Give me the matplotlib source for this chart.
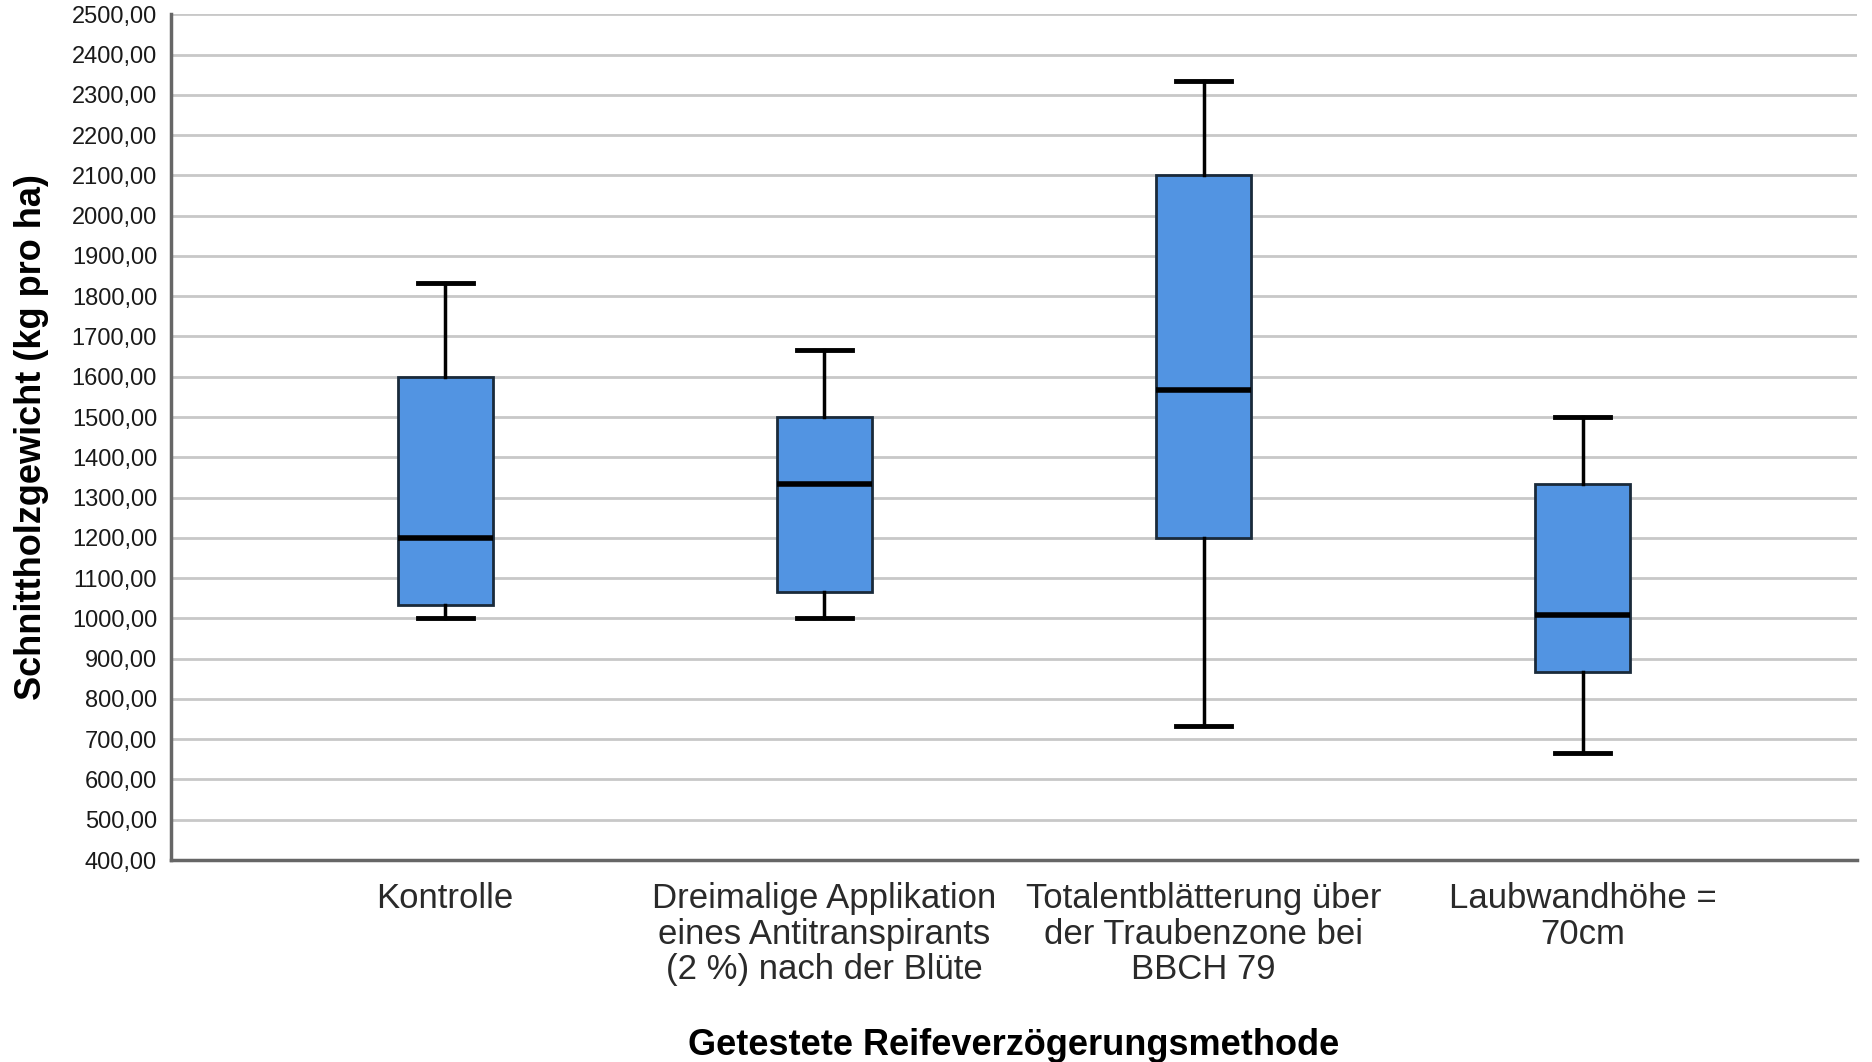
import matplotlib.pyplot as plt
import matplotlib.ticker as ticker

plt.rcParams['font.family'] = ['Liberation Sans', 'DejaVu Sans']

# Werte
gruppen = ["Kontrolle",
           "Dreimalige Applikation\neines Antitranspirants\n(2 %) nach der Blüte",
           "Totalentblätterung über\nder Traubenzone bei\nBBCH 79",
           "Laubwandhöhe =\n70cm"]
whisker_unten = [1000.00, 1000.00, 733.33, 666.67]
q1 = [1033.33, 1066.67, 1200.00, 866.67]
median = [1200.00, 1333.33, 1566.67, 1008.33]
q3 = [1600.00, 1500.00, 2100.00, 1333.33]
whisker_oben = [1833.33, 1666.67, 2333.33, 1500.00]

stats = []
for i in range(len(gruppen)):
    stats.append({'whislo': whisker_unten[i], 'q1': q1[i], 'med': median[i],
                  'q3': q3[i], 'whishi': whisker_oben[i], 'fliers': []})

fig = plt.figure(figsize=(18.72, 10.62), dpi=100)
ax = fig.add_axes([0.0913, 0.1902, 0.9007, 0.7963])

ax.bxp(stats, positions=[1, 2, 3, 4], widths=0.25, patch_artist=True,
       boxprops=dict(facecolor='#5294E2', edgecolor='#1a2a3a', linewidth=2),
       medianprops=dict(color='black', linewidth=4, solid_capstyle='butt'),
       whiskerprops=dict(color='black', linewidth=2.5),
       capprops=dict(color='black', linewidth=3.5),
       capwidths=0.145, zorder=3)

ax.set_xlim(0.277, 4.723)
ax.set_ylim(400, 2500)
ax.yaxis.set_major_locator(ticker.MultipleLocator(100))
ax.yaxis.set_major_formatter(ticker.FuncFormatter(lambda v, p: f"{v:.2f}".replace('.', ',')))
ax.set_xticks([1, 2, 3, 4])
ax.set_xticklabels(gruppen, fontsize=25, linespacing=1.1, color='#2a2a2a')

ax.grid(axis='y', color='#c8c8c8', linewidth=2, zorder=0)
ax.set_axisbelow(True)
ax.tick_params(axis='y', length=0, labelsize=17, pad=10, colors='#1a1a1a')
ax.tick_params(axis='x', length=0, pad=16)

for s in ['top', 'right']:
    ax.spines[s].set_visible(False)
for s in ['left', 'bottom']:
    ax.spines[s].set_color('#666666')
    ax.spines[s].set_linewidth(2.5)

ax.set_ylabel("Schnittholzgewicht (kg pro ha)", fontsize=26, fontweight='bold', labelpad=16)
ax.set_xlabel("Getestete Reifeverzögerungsmethode", fontsize=26, fontweight='bold', labelpad=30)

fig.savefig('out.png', dpi=100)
